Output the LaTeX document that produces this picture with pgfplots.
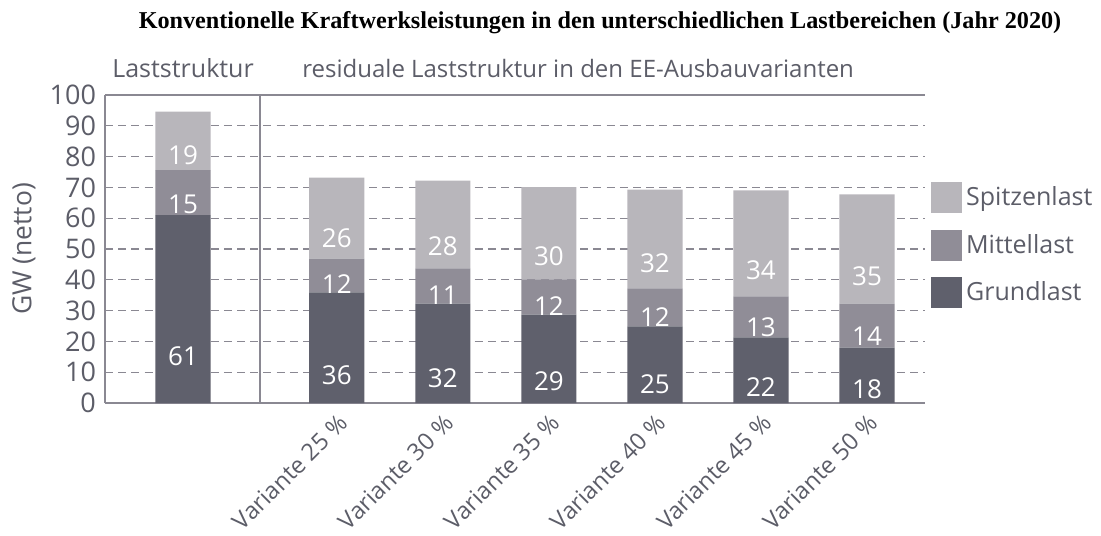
\documentclass[border=0pt]{standalone}
\usepackage{pgfplots}
\pgfplotsset{compat=1.18}
\usepackage{pgfplotstable}
\usepackage{fontspec}
\setmainfont{Open Sans}
\newfontfamily\titlefont{Liberation Serif}
\definecolor{txt}{HTML}{5C5D68}
\definecolor{cG}{HTML}{5F606C}
\definecolor{cM}{HTML}{908D97}
\definecolor{cS}{HTML}{B8B6BB}
\definecolor{axc}{HTML}{8A8892}
\pgfplotstableread{
x G M S lg lm ls
-0.45 61.0 14.6 19.0 61 15 19
1 35.9 11.0 26.3 36 12 26
2 32.3 11.4 28.5 32 11 28
3 28.7 11.4 30.0 29 12 30
4 24.9 12.3 32.1 25 12 32
5 21.3 13.3 34.4 22 13 34
6 18.0 14.3 35.4 18 14 35
}\data
\begin{document}
\begin{tikzpicture}
\useasboundingbox (-52.5pt,-66pt) rectangle (498pt,201.5pt);
\begin{axis}[
  at={(0,0)}, anchor=south west,
  scale only axis, width=410pt, height=154pt,
  ybar stacked, bar width=0.52,
  xmin=-1.186, xmax=6.547, ymin=0, ymax=100,
  ytick={0,10,...,100},
  xtick={1,2,3,4,5,6},
  xticklabels={Variante 25 \%,Variante 30 \%,Variante 35 \%,Variante 40 \%,Variante 45 \%,Variante 50 \%},
  major tick length=0pt,
  xtick style={draw=none}, ytick style={draw=none},
  ymajorgrids,
  grid style={dash pattern=on 4pt off 2.6pt, color=axc, line width=0.6pt},
  axis x line*=bottom, axis y line*=left,
  axis line style={-, axc, line width=0.9pt},
  every outer x axis line/.append style={-},
  every outer y axis line/.append style={-},
  /pgf/number format/assume math mode=true,
  yticklabel style={anchor=east, xshift=-1pt, font=\fontsize{13.5}{15}\selectfont, text=txt},
  xticklabel style={rotate=45, anchor=north east, font=\fontsize{11.8}{14}\selectfont, text=txt},
  ylabel={GW (netto)},
  ylabel style={at={(rel axis cs:0,0.5)}, yshift=40.5pt, anchor=center, font=\fontsize{13.2}{15}\selectfont, text=txt},
  legend style={at={(rel axis cs:1.007,0.718)}, anchor=north west, draw=none, fill=none,
    font=\fontsize{12.5}{14}\selectfont, text=txt, row sep=8.25pt, inner sep=0pt,
    nodes={inner sep=2pt}},
  legend cell align=left,
  reverse legend,
  nodes near coords,
  point meta=explicit symbolic,
  every node near coord/.append style={anchor=center, text=white, font=\fontsize{13}{15}\selectfont},
  clip=false,
]
\addplot[fill=cG, draw=none, area legend,
  legend image code/.code={\fill[cG] (0pt,-7.75pt) rectangle (15.5pt,7.75pt);},
  visualization depends on={\thisrow{G} \as \segh},
  every node near coord/.append style={shift={(axis direction cs:0,-\segh/4)}}]
  table[x=x, y=G, meta=lg] {\data};
\addlegendentry{Grundlast}
\addplot[fill=cM, draw=none, area legend,
  legend image code/.code={\fill[cM] (0pt,-7.75pt) rectangle (15.5pt,7.75pt);},
  visualization depends on={\thisrow{M} \as \segh},
  every node near coord/.append style={shift={(axis direction cs:0,-\segh/4)}}]
  table[x=x, y=M, meta=lm] {\data};
\addlegendentry{Mittellast}
\addplot[fill=cS, draw=none, area legend,
  legend image code/.code={\fill[cS] (0pt,-7.75pt) rectangle (15.5pt,7.75pt);},
  visualization depends on={\thisrow{S} \as \segh},
  every node near coord/.append style={shift={(axis direction cs:0,-\segh/4)}}]
  table[x=x, y=S, meta=ls] {\data};
\addlegendentry{Spitzenlast}
\draw[axc, line width=0.9pt] (rel axis cs:0,1) -- (rel axis cs:1,1);
\draw[axc, line width=0.9pt] (axis cs:0.276,0) -- (axis cs:0.276,100);
\node[anchor=base, text=txt, font=\fontsize{12.5}{14}\selectfont, yshift=8.75pt] at (axis cs:-0.45,100) {Laststruktur};
\node[anchor=base, text=txt, font=\fontsize{12}{14}\selectfont, yshift=8.75pt] at (axis cs:3.276,100) {residuale Laststruktur in den EE-Ausbauvarianten};
\end{axis}
\node[anchor=base, font=\titlefont\bfseries\fontsize{12.1}{14}\selectfont] at (247.5pt,187pt) {Konventionelle Kraftwerksleistungen in den unterschiedlichen Lastbereichen (Jahr 2020)};
\end{tikzpicture}
\end{document}
